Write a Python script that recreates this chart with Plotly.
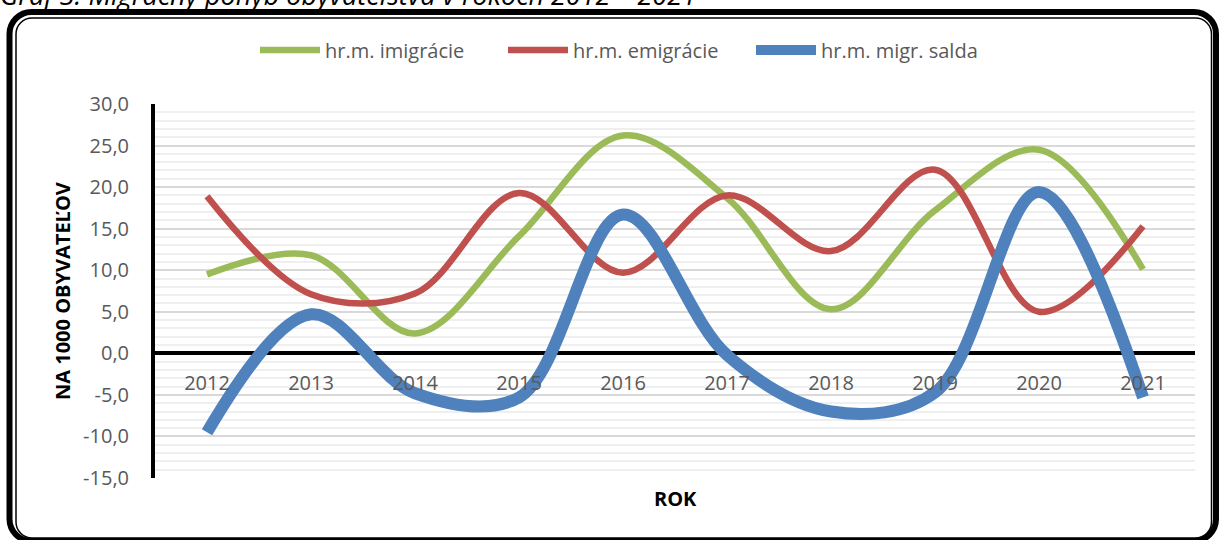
import plotly.graph_objects as go

# ---- data ----
years = ["2012", "2013", "2014", "2015", "2016", "2017", "2018", "2019", "2020", "2021"]
imigracie = [9.5, 11.8, 2.4, 14.1, 26.2, 18.7, 5.3, 17.2, 24.5, 10.1]
emigracie = [18.9, 7.1, 7.2, 19.3, 9.7, 19.0, 12.3, 22.1, 5.0, 15.3]
saldo = [-9.5, 4.7, -4.8, -5.3, 16.7, -0.2, -7.0, -4.7, 19.4, -5.3]
y_tickvals = [-15, -10, -5, 0, 5, 10, 15, 20, 25, 30]
y_ticktext = ["-15,0", "-10,0", "-5,0", "0,0", "5,0", "10,0", "15,0", "20,0", "25,0", "30,0"]
series_names = ["hr.m. imigrácie", "hr.m. emigrácie", "hr.m. migr. salda"]

W, H = 1219, 540
L, R, T, B = 155, 24, 104, 62
PW, PH = W - L - R, H - T - B


def px(x):
    return (x - L) / PW


def py(y):
    return (H - B - y) / PH


def rrect(x0, y0, x1, y1, r):
    k = 0.5523 * r
    pts = [
        f"M{px(x0 + r)},{py(y0)}",
        f"L{px(x1 - r)},{py(y0)}",
        f"C{px(x1 - r + k)},{py(y0)} {px(x1)},{py(y0 + r - k)} {px(x1)},{py(y0 + r)}",
        f"L{px(x1)},{py(y1 - r)}",
        f"C{px(x1)},{py(y1 - r + k)} {px(x1 - r + k)},{py(y1)} {px(x1 - r)},{py(y1)}",
        f"L{px(x0 + r)},{py(y1)}",
        f"C{px(x0 + r - k)},{py(y1)} {px(x0)},{py(y1 - r + k)} {px(x0)},{py(y1 - r)}",
        f"L{px(x0)},{py(y0 + r)}",
        f"C{px(x0)},{py(y0 + r - k)} {px(x0 + r - k)},{py(y0)} {px(x0 + r)},{py(y0)}",
        "Z",
    ]
    return " ".join(pts)


FONT = "Open Sans"
GRAY = "#595959"

fig = go.Figure()
fig.add_trace(go.Scatter(x=years, y=imigracie, name=series_names[0], mode="lines",
                         line=dict(color="#9BBB59", width=6.5, shape="spline", smoothing=1.0)))
fig.add_trace(go.Scatter(x=years, y=emigracie, name=series_names[1], mode="lines",
                         line=dict(color="#C0504D", width=6.5, shape="spline", smoothing=1.0)))
fig.add_trace(go.Scatter(x=years, y=saldo, name=series_names[2], mode="lines",
                         line=dict(color="#4F81BD", width=12, shape="spline", smoothing=1.0)))

fig.update_layout(
    width=W, height=H,
    margin=dict(l=L, r=R, t=T, b=B, pad=0),
    paper_bgcolor="white", plot_bgcolor="white",
    font=dict(family=FONT, color=GRAY, size=20),
    showlegend=True,
    legend=dict(orientation="h", x=px(255), y=py(50), xanchor="left", yanchor="middle",
                font=dict(size=20, color=GRAY), itemwidth=60, bgcolor="rgba(0,0,0,0)",
                entrywidth=173, entrywidthmode="pixels"),
    xaxis=dict(type="category", range=[-0.5, 9.5], anchor="free", position=1 / 3,
               showline=False, showgrid=False, zeroline=False, ticks="",
               tickfont=dict(size=20, color=GRAY), ticklabelstandoff=16),
    yaxis=dict(range=[-15, 30], tickmode="array", tickvals=y_tickvals, ticktext=y_ticktext,
               showline=True, linecolor="black", linewidth=4, ticks="",
               showgrid=True, gridcolor="#d9d9d9", gridwidth=1.5,
               minor=dict(tickmode="linear", tick0=0, dtick=1, showgrid=True,
                          gridcolor="#efefef", gridwidth=1.5, ticks=""),
               zeroline=True, zerolinecolor="black", zerolinewidth=4,
               tickfont=dict(size=20, color=GRAY), ticklabelstandoff=18),
    shapes=[
        dict(type="path", xref="paper", yref="paper", path=rrect(9.5, 12, 1216, 541, 22),
             line=dict(color="black", width=6), layer="above"),
        dict(type="path", xref="paper", yref="paper", path=rrect(16, 18, 1211.5, 538, 16),
             line=dict(color="black", width=1.5), layer="above"),
    ],
    annotations=[
        dict(text="NA 1000 OBYVATEĽOV", xref="paper", yref="paper", x=px(62), y=0.5,
             textangle=-90, showarrow=False, xanchor="center", yanchor="middle",
             font=dict(family=FONT, size=20, color="black", weight="bold")),
        dict(text="ROK", xref="paper", yref="paper", x=px(675), y=py(498),
             showarrow=False, xanchor="center", yanchor="middle",
             font=dict(family=FONT, size=20, color="black", weight="bold")),
        dict(text="Graf 3: Migračný pohyb obyvateľstva v rokoch 2012 – 2021", xref="paper", yref="paper",
             x=px(-2), y=py(15), showarrow=False, xanchor="left", yanchor="bottom",
             font=dict(family=FONT, size=27, color="black", style="italic")),
    ],
)

fig.write_html("out.html", config={"displayModeBar": False},
               post_script="document.body.style.margin='0';document.body.style.overflow='hidden';")
